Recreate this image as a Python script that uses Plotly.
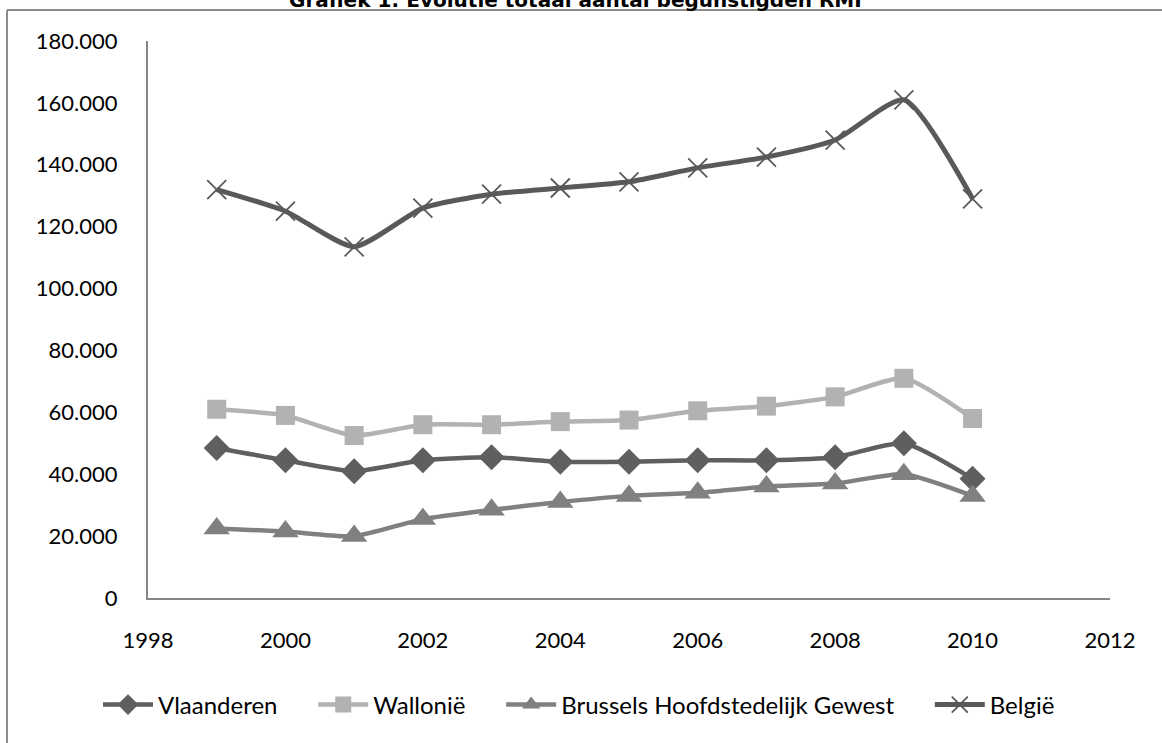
import plotly.graph_objects as go

years = [1999, 2000, 2001, 2002, 2003, 2004, 2005, 2006, 2007, 2008, 2009, 2010]
vlaanderen = [48500, 44500, 41000, 44500, 45500, 44000, 44000, 44500, 44500, 45500, 50000, 38500]
wallonie = [61000, 59000, 52500, 56000, 56000, 57000, 57500, 60500, 62000, 65000, 71000, 58000]
brussel = [22500, 21500, 20000, 25500, 28500, 31000, 33000, 34000, 36000, 37000, 40000, 33000]
belgie = [132000, 125000, 113500, 126000, 130500, 132500, 134500, 139000, 142500, 148000, 161000, 129000]

names = ["Vlaanderen", "Wallonië", "Brussels Hoofdstedelijk Gewest", "België"]
title_text = "Grafiek 1: Evolutie totaal aantal begunstigden RMI"

pad = "\u00a0" * 5  # spacing between legend entries

fig = go.Figure()

fig.add_trace(go.Scatter(
    x=years, y=vlaanderen, name=names[0] + pad, mode="lines+markers",
    line=dict(color="#5f5f5f", width=4.5, shape="spline", smoothing=0.6),
    marker=dict(symbol="diamond", size=20, color="#5f5f5f"),
))
fig.add_trace(go.Scatter(
    x=years, y=wallonie, name=names[1] + pad, mode="lines+markers",
    line=dict(color="#b2b2b2", width=4.5, shape="spline", smoothing=0.6),
    marker=dict(symbol="square", size=19, color="#b2b2b2"),
))
fig.add_trace(go.Scatter(
    x=years, y=brussel, name=names[2] + pad, mode="lines+markers",
    line=dict(color="#808080", width=4.5, shape="spline", smoothing=0.6),
    marker=dict(symbol="triangle-up", size=23, color="#808080"),
))
fig.add_trace(go.Scatter(
    x=years, y=belgie, name=names[3], mode="lines+markers",
    line=dict(color="#595959", width=5, shape="spline", smoothing=0.6),
    marker=dict(symbol="x-thin-open", size=19, color="#595959",
                line=dict(color="#595959", width=1.8)),
))

font_family = "Lato, 'Open Sans', sans-serif"

fig.update_layout(
    width=1162, height=743,
    margin=dict(l=148, r=52, t=41, b=145),
    paper_bgcolor="white", plot_bgcolor="white",
    separators=",.",
    font=dict(family=font_family, size=22, color="black"),
    showlegend=True,
    legend=dict(orientation="h", x=(98 - 148) / 962, xanchor="left", y=-0.192, yanchor="middle",
                font=dict(size=24), itemwidth=50, tracegroupgap=0,
                bgcolor="rgba(0,0,0,0)"),
    xaxis=dict(range=[1998, 2012], tickvals=[1998, 2000, 2002, 2004, 2006, 2008, 2010, 2012],
               tickformat="d", showgrid=False, zeroline=False, showline=True,
               linecolor="#868686", linewidth=2, ticks="", ticklabelstandoff=22),
    yaxis=dict(range=[0, 180000], dtick=20000, tickformat=",d", showgrid=False,
               zeroline=False, showline=True, linecolor="#868686", linewidth=2,
               ticks="", ticklabelstandoff=24),
)

fig.add_annotation(text="<b>" + title_text + "</b>", xref="paper", yref="paper",
                   x=(575 - 148) / 962, y=(598 - 0) / 557, xanchor="center", yanchor="middle",
                   showarrow=False, font=dict(family="DejaVu Sans", size=20, color="black"))

# chart frame (top and left edges visible)
fig.add_shape(type="line", xref="paper", yref="paper",
              x0=(7 - 148) / 962, x1=(1162 - 148) / 962, y0=(598 - 10) / 557, y1=(598 - 10) / 557,
              line=dict(color="#8c8c8c", width=2))
fig.add_shape(type="line", xref="paper", yref="paper",
              x0=(7 - 148) / 962, x1=(7 - 148) / 962, y0=(598 - 10) / 557, y1=(598 - 750) / 557,
              line=dict(color="#8c8c8c", width=2))

fig.write_html("out.html")
